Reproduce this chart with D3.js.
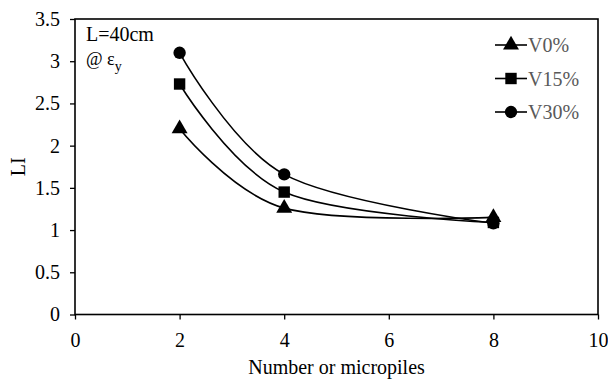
<!DOCTYPE html>
<html>
<head>
<meta charset="utf-8">
<script src="https://cdn.jsdelivr.net/npm/d3@7"></script>
<style>
    body { margin: 0; background: #fff; }
    svg text { font-family: "Liberation Serif", "Times New Roman", serif !important; }
</style>
</head>
<body>
<div id="chart"></div>
<script>
// Data
const piles = [2, 4, 8];
const seriesNames = ["V0%", "V15%", "V30%"];
const v0 = [2.2, 1.26, 1.15];
const v15 = [2.73, 1.45, 1.09];
const v30 = [3.1, 1.66, 1.08];
const xTicks = [0, 2, 4, 6, 8, 10];
const yTicks = [0, 0.5, 1, 1.5, 2, 2.5, 3, 3.5];

document.addEventListener("DOMContentLoaded", chart);

function chart() {
    const width = 608,
        height = 380;
    const margin = { top: 19, right: 10, bottom: 65.5, left: 75 };
    const serif = "Liberation Serif, Times New Roman, serif";

    const svg = d3
        .select("#chart")
        .append("svg")
        .attr("width", width)
        .attr("height", height)
        .attr("font-family", serif);

    const x = d3
        .scaleLinear()
        .domain([0, 10])
        .range([margin.left, width - margin.right]);

    const y = d3
        .scaleLinear()
        .domain([0, 3.5])
        .range([height - margin.bottom, margin.top]);

    // Axes
    const xAxis = svg
        .append("g")
        .attr("transform", "translate(0," + y(0) + ")")
        .call(d3.axisBottom(x).tickValues(xTicks).tickFormat(d3.format("d")).tickSize(5).tickPadding(13));

    const yAxis = svg
        .append("g")
        .attr("transform", "translate(" + x(0) + ",0)")
        .call(d3.axisLeft(y).tickValues(yTicks).tickFormat((d) => d).tickSize(5).tickPadding(10));

    [xAxis, yAxis].forEach((a) => {
        a.attr("font-family", serif).attr("font-size", 20);
        a.select(".domain").remove();
        a.selectAll("line").attr("stroke", "#000").attr("stroke-width", 1.3);
        a.selectAll("text").attr("fill", "#000");
    });

    // Plot box
    svg.append("rect")
        .attr("x", x(0))
        .attr("y", y(3.5))
        .attr("width", x(10) - x(0))
        .attr("height", y(0) - y(3.5))
        .attr("fill", "none")
        .attr("stroke", "#000")
        .attr("stroke-width", 1.6);

    // Axis titles
    svg.append("text")
        .attr("x", (x(0) + x(10)) / 2)
        .attr("y", 374)
        .attr("text-anchor", "middle")
        .attr("font-size", "20px")
        .text("Number or micropiles");

    svg.append("text")
        .attr("transform", "translate(25," + (y(0) + y(3.5)) / 2 + ") rotate(-90)")
        .attr("text-anchor", "middle")
        .attr("font-size", "20px")
        .text("LI");

    // Annotation
    svg.append("text")
        .attr("x", 86)
        .attr("y", 41)
        .attr("font-size", "20px")
        .text("L=40cm");

    const note = svg.append("text")
        .attr("x", 86)
        .attr("y", 65)
        .attr("font-size", "18px");
    note.append("tspan").text("@ ε");
    note.append("tspan").attr("dy", 6).attr("font-size", "14px").text("y");

    // Series
    const series = [
        { name: seriesNames[0], values: v0, symbol: d3.symbolTriangle, size: 110 },
        { name: seriesNames[1], values: v15, symbol: d3.symbolSquare, size: 130 },
        { name: seriesNames[2], values: v30, symbol: d3.symbolCircle, size: 120 }
    ];

    const line = d3
        .line()
        .x((d) => x(d[0]))
        .y((d) => y(d[1]))
        .curve(d3.curveCardinal.tension(0));

    series.forEach((s) => {
        const pts = piles.map((p, i) => [p, s.values[i]]);
        svg.append("path")
            .attr("d", line(pts))
            .attr("fill", "none")
            .attr("stroke", "#000")
            .attr("stroke-width", 1.6);
    });

    series.forEach((s) => {
        const pts = piles.map((p, i) => [p, s.values[i]]);
        svg.selectAll(null)
            .data(pts)
            .enter()
            .append("path")
            .attr("d", d3.symbol().type(s.symbol).size(s.size))
            .attr("transform", (d) => "translate(" + x(d[0]) + "," + y(d[1]) + ")")
            .attr("fill", "#000");
    });

    // Legend
    const legend = svg.append("g").attr("transform", "translate(495,45)");
    series.forEach((s, i) => {
        const row = legend.append("g").attr("transform", "translate(0," + i * 33.5 + ")");
        row.append("line")
            .attr("x1", 0)
            .attr("x2", 32)
            .attr("stroke", "#000")
            .attr("stroke-width", 1.6);
        row.append("path")
            .attr("d", d3.symbol().type(s.symbol).size(s.size))
            .attr("transform", "translate(16,0)")
            .attr("fill", "#000");
        row.append("text")
            .attr("x", 33)
            .attr("dy", "0.35em")
            .attr("font-size", "20px")
            .attr("fill", "#595959")
            .text(s.name);
    });
}
</script>
</body>
</html>
